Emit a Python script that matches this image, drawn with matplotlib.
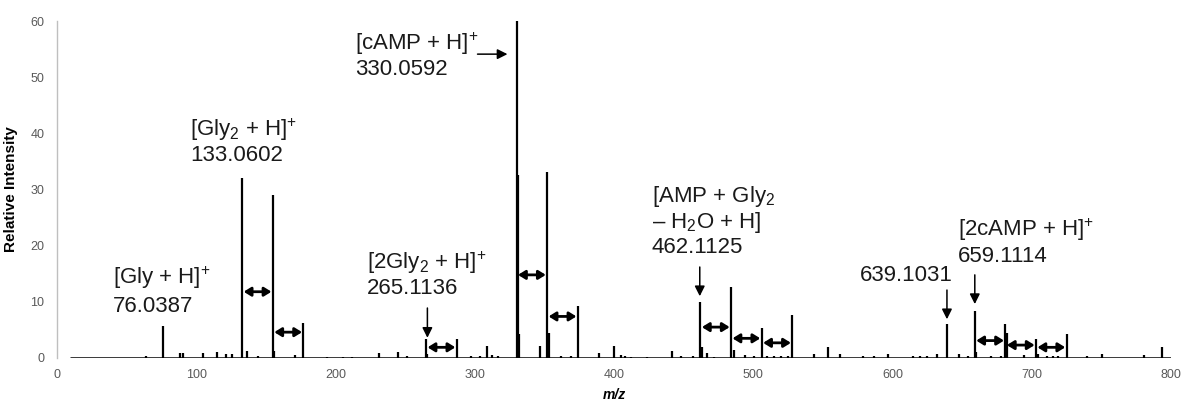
import numpy as np
import matplotlib
matplotlib.use("Agg")
import matplotlib.pyplot as plt

plt.rcParams["font.family"] = ["Liberation Sans", "DejaVu Sans"]
plt.rcParams["mathtext.fontset"] = "custom"
plt.rcParams["mathtext.rm"] = "Liberation Sans"
plt.rcParams["mathtext.it"] = "Liberation Sans:italic"
plt.rcParams["mathtext.bf"] = "Liberation Sans:bold"

# --- spectrum: main ions (m/z, relative intensity) ---
main_mz = [76.04, 133.06, 155.04, 177.03, 265.11, 287.10, 330.06, 331.06,
           352.04, 374.03, 462.11, 484.10, 506.08, 528.07, 639.10, 659.11,
           681.10, 682.10, 703.08, 725.07, 793.6]
main_int = [5.7, 32.0, 29.0, 6.3, 3.3, 3.3, 60.0, 32.5,
            33.2, 9.3, 10.0, 12.6, 5.3, 7.6, 6.0, 8.3,
            6.1, 4.5, 3.4, 4.2, 1.9]

# --- minor / isotope peaks ---
minor_mz = [64, 88, 90.6, 105, 115, 121.5, 125.8, 136.6, 144.5, 156, 171,
            194, 205.6, 212, 231.5, 245, 251, 266, 297, 303.5, 309, 312.7,
            317, 332, 347, 353, 362, 369, 389, 399.7, 404.7, 408, 412, 424,
            442, 448, 457, 463, 466.5, 471.6, 486, 494, 500.5, 510, 515,
            520, 525, 543.5, 553.5, 562, 579, 587, 596.5, 615, 620, 625,
            632, 648, 654, 660, 670.7, 678, 694.5, 704.5, 711, 715, 719,
            740, 750.5, 780.7]
minor_int = [0.3, 0.9, 0.9, 0.9, 1.0, 0.8, 0.8, 1.2, 0.3, 1.2, 0.6,
             0.2, 0.2, 0.2, 0.9, 1.1, 0.4, 0.8, 0.3, 0.4, 2.1, 0.6,
             0.4, 4.3, 2.2, 4.4, 0.4, 0.3, 0.9, 2.2, 0.5, 0.3, 0.2, 0.2,
             1.2, 0.3, 0.4, 2.0, 0.9, 0.2, 1.5, 0.6, 0.4, 0.4, 0.4,
             0.4, 0.4, 0.7, 1.9, 0.7, 0.3, 0.3, 0.8, 0.3, 0.3, 0.3,
             0.8, 0.7, 0.3, 1.0, 0.3, 0.3, 0.5, 0.8, 0.3, 0.3, 0.3,
             0.3, 0.7, 0.5]
mz_range = [9, 800]

# --- Na-adduct spacing arrows: (from m/z, to m/z, height) ---
delta_from = [133.06, 155.04, 265.11, 330.06, 352.04, 462.11, 484.10, 506.08, 659.11, 681.10, 703.08]
delta_to = [155.04, 177.03, 287.10, 352.04, 374.03, 484.10, 506.08, 528.07, 681.10, 703.08, 725.07]
delta_y = [11.8, 4.6, 1.9, 14.8, 7.4, 5.5, 3.5, 2.7, 3.1, 2.3, 1.9]

# --- pointer arrows above selected peaks: (m/z, top, tip) ---
pointer_mz = [266.0, 461.6, 639.1, 659.1]
pointer_top = [8.9, 16.2, 12.1, 14.8]
pointer_tip = [3.6, 11.0, 6.9, 9.6]

# --- peak labels: (x, y, text) ---
label_x = [40, 40, 95.5, 95.5, 214, 214, 222.4, 222.4, 427, 427, 427, 647.3, 647.3, 576.7]
label_y = [14.2, 9.1, 40.6, 36.1, 56.0, 51.3, 16.9, 12.4, 28.7, 24.2, 19.6, 22.8, 18.0, 14.6]
label_txt = [r"[Gly + H]$^{+}$", "76.0387",
             r"[Gly$_{2}$ + H]$^{+}$", "133.0602",
             r"[cAMP + H]$^{+}$", "330.0592",
             r"[2Gly$_{2}$ + H]$^{+}$", "265.1136",
             r"[AMP + Gly$_{2}$", r"– H$_{2}$O + H]", "462.1125",
             r"[2cAMP + H]$^{+}$", "659.1114",
             "639.1031"]

fig = plt.figure(figsize=(11.82, 4.0), dpi=100)
ax = fig.add_axes([0.0482, 0.105, 0.9425, 0.8425])

ax.plot(mz_range, [0, 0], color="black", lw=1.8, solid_capstyle="butt")
ax.vlines(minor_mz, 0, minor_int, color="black", lw=1.6)
ax.vlines(main_mz, 0, main_int, color="black", lw=1.6)

for x1, x2, y in zip(delta_from, delta_to, delta_y):
    ax.annotate("", xy=(x2, y), xytext=(x1, y),
                arrowprops=dict(arrowstyle="<|-|>,head_length=0.42,head_width=0.26",
                                color="black", lw=2.0,
                                mutation_scale=10, shrinkA=1.0, shrinkB=1.0))

for x, y0, y1 in zip(pointer_mz, pointer_top, pointer_tip):
    ax.annotate("", xy=(x, y1), xytext=(x, y0),
                arrowprops=dict(arrowstyle="-|>,head_length=0.5,head_width=0.25",
                                color="black", lw=1.1,
                                mutation_scale=12, shrinkA=0, shrinkB=0))

# horizontal pointer to the cAMP peak
ax.annotate("", xy=(323.5, 54.1), xytext=(302, 54.1),
            arrowprops=dict(arrowstyle="-|>,head_length=0.5,head_width=0.25",
                            color="black", lw=1.1,
                            mutation_scale=12, shrinkA=0, shrinkB=0))

for x, y, s in zip(label_x, label_y, label_txt):
    ax.text(x, y, s, ha="left", va="center", fontsize=16, color="#1a1a1a")

ax.set_xlim(0, 800)
ax.set_ylim(0, 60)
ax.set_xticks(np.arange(0, 801, 100))
ax.set_yticks(np.arange(0, 61, 10))
ax.tick_params(length=0, labelsize=9, labelcolor="#595959")
ax.tick_params(axis="x", pad=8)
ax.tick_params(axis="y", pad=9)

for side in ["top", "right", "bottom"]:
    ax.spines[side].set_visible(False)
ax.spines["left"].set_color("#bfbfbf")
ax.spines["left"].set_linewidth(1.0)

ax.set_ylabel("Relative Intensity", fontsize=11, fontweight="bold")
ax.yaxis.set_label_coords(-0.035, 0.5)
ax.set_xlabel("m/z", fontsize=10, fontweight="bold", fontstyle="italic")
ax.xaxis.set_label_coords(0.5, -0.09)

fig.savefig("out.png", dpi=100)
